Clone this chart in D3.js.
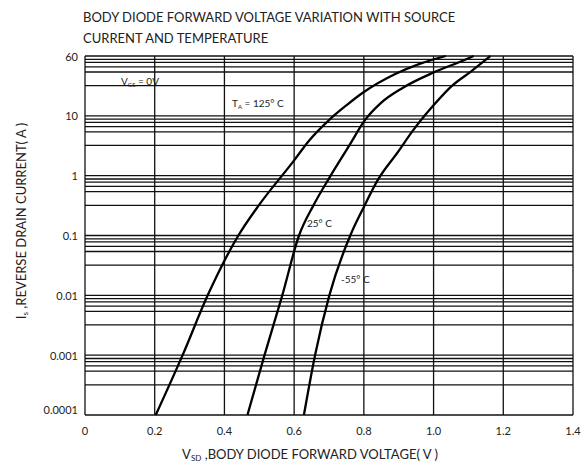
<!DOCTYPE html>
<html>
<head>
<meta charset="utf-8">
<script src="https://cdn.jsdelivr.net/npm/d3@7"></script>
<style>
    body { margin: 0; background: #fff; }
    text { font-family: Lato, "Open Sans", sans-serif; fill: #222; }
</style>
</head>
<body>
<svg id="chart" width="581" height="468"></svg>
<script>
// x axis (V)
const xTicks = [0, 0.2, 0.4, 0.6, 0.8, 1.0, 1.2, 1.4];
const xTickLabels = ["0", "0.2", "0.4", "0.6", "0.8", "1.0", "1.2", "1.4"];

// y axis (A), log; the top decade line is printed as "60"
const yTicks = [0.0001, 0.001, 0.01, 0.1, 1, 10, 100];
const yTickLabels = ["0.0001", "0.001", "0.01", "0.1", "1", "10", "60"];
// minor lines inside each decade, as multiples of the lower major
const yMinor = [8.8, 7.8, 6.6, 5.4, 3.2];

// curves: [V, A]
const curve125 = [[0.203, 0.0001], [0.280, 0.001], [0.352, 0.01], [0.440, 0.1],
    [0.498, 0.316], [0.600, 1.8], [0.642, 3.8], [0.700, 8.5], [0.750, 15], [0.800, 25],
    [0.890, 50], [0.960, 74], [1.035, 100]];
const curve25 = [[0.466, 0.0001], [0.515, 0.001], [0.566, 0.01], [0.614, 0.1],
    [0.655, 0.316], [0.700, 0.9], [0.761, 3.4], [0.800, 8.0],
    [0.850, 16.6], [0.910, 29], [1.000, 53], [1.087, 85], [1.115, 100]];
const curveM55 = [[0.628, 0.0001], [0.660, 0.001], [0.701, 0.01],
    [0.761, 0.1], [0.800, 0.3], [0.840, 0.85], [0.898, 2.5], [0.940, 5.6],
    [0.977, 10.5], [1.000, 15], [1.051, 31], [1.107, 55], [1.163, 100]];

const svg = d3.select("#chart");
const margin = {left: 85, right: 8, top: 56, bottom: 53};
const width = +svg.attr("width");
const height = +svg.attr("height");

const x = d3.scaleLinear().domain([0, 1.4]).range([margin.left, width - margin.right]);
const y = d3.scaleLog().domain([0.0001, 100]).range([height - margin.bottom, margin.top]);

svg.append("rect").attr("width", width).attr("height", height).attr("fill", "white");

// title
svg.append("text")
    .attr("x", 83).attr("y", 22)
    .attr("font-size", 13)
    .text("BODY DIODE FORWARD VOLTAGE VARIATION WITH SOURCE");
svg.append("text")
    .attr("x", 83).attr("y", 43)
    .attr("font-size", 13)
    .text("CURRENT AND TEMPERATURE");

// horizontal grid
let minorVals = [];
yTicks.slice(0, -1).forEach(m => yMinor.forEach(s => minorVals.push(m * s)));

const grid = svg.append("g").attr("stroke", "#111").attr("stroke-width", 1.3);
grid.selectAll(".hmaj").data(yTicks).join("line")
    .attr("x1", x(0)).attr("x2", x(1.4))
    .attr("y1", d => y(d)).attr("y2", d => y(d));
grid.selectAll(".hmin").data(minorVals).join("line")
    .attr("x1", x(0)).attr("x2", x(1.4))
    .attr("y1", d => y(d)).attr("y2", d => y(d));
grid.selectAll(".vline").data(xTicks).join("line")
    .attr("x1", d => x(d)).attr("x2", d => x(d))
    .attr("y1", y(100)).attr("y2", y(0.0001));

// tick labels
svg.selectAll(".ylab").data(yTicks).join("text")
    .attr("x", 78)
    .attr("y", (d, i) => i === 0 ? y(d) - 1 : y(d))
    .attr("text-anchor", "end")
    .attr("dominant-baseline", (d, i) => i === 0 ? "auto" : "central")
    .attr("font-size", 11)
    .text((d, i) => yTickLabels[i]);

svg.selectAll(".xlab").data(xTicks).join("text")
    .attr("x", d => x(d))
    .attr("y", 430)
    .attr("text-anchor", "middle")
    .attr("dominant-baseline", "central")
    .attr("font-size", 11)
    .text((d, i) => xTickLabels[i]);

// curves
const line = d3.line()
    .x(d => x(d[0]))
    .y(d => y(d[1]))
    .curve(d3.curveMonotoneX);

[curve125, curve25, curveM55].forEach(c => {
    svg.append("path")
        .attr("d", line(c))
        .attr("fill", "none")
        .attr("stroke", "#000")
        .attr("stroke-width", 2.3);
});

// annotations
let vgs = svg.append("text").attr("x", 121).attr("y", 85).attr("font-size", 10);
vgs.append("tspan").text("V");
vgs.append("tspan").attr("font-size", 6).attr("dy", 2).text("GS");
vgs.append("tspan").attr("dy", -2).text(" = 0V");

let ta = svg.append("text").attr("x", 232).attr("y", 107).attr("font-size", 10);
ta.append("tspan").text("T");
ta.append("tspan").attr("font-size", 6).attr("dy", 2).text("A");
ta.append("tspan").attr("dy", -2).text(" = 125° C");

svg.append("text").attr("x", 307).attr("y", 227).attr("font-size", 10).text("25° C");
svg.append("text").attr("x", 341).attr("y", 283).attr("font-size", 10).text("-55° C");

// axis titles
let xt = svg.append("text")
    .attr("x", 310).attr("y", 459)
    .attr("text-anchor", "middle")
    .attr("font-size", 13);
xt.append("tspan").text("V");
xt.append("tspan").attr("font-size", 8).attr("dy", 2).text("SD");
xt.append("tspan").attr("dy", -2).text(" ,BODY DIODE FORWARD VOLTAGE( V )");

let yt = svg.append("text")
    .attr("transform", "translate(26,221) rotate(-90)")
    .attr("text-anchor", "middle")
    .attr("font-size", 13);
yt.append("tspan").text("I");
yt.append("tspan").attr("font-size", 8).attr("dy", 2).text("s");
yt.append("tspan").attr("dy", -2).text(" ,REVERSE DRAIN CURRENT( A )");
</script>
</body>
</html>
